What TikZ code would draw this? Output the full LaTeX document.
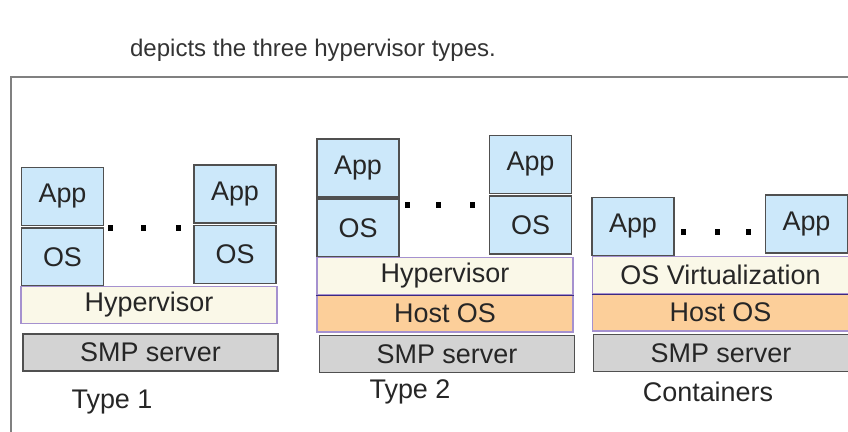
\documentclass[tikz,border=0pt]{standalone}
\usepackage{fontspec}
\setmainfont{Liberation Sans}
\usetikzlibrary{positioning}
\definecolor{appblue}{HTML}{CCE8FA}
\definecolor{hypfill}{HTML}{FAF8E8}
\definecolor{hypline}{HTML}{A591CF}
\definecolor{hostfill}{HTML}{FCCF9A}
\definecolor{smpfill}{HTML}{D3D3D3}
\definecolor{boxgray}{HTML}{505050}
\definecolor{seamline}{HTML}{3C2A80}
\tikzstyle{layer} = [rectangle, draw=boxgray, line width=1.2pt, inner sep=0pt, text=black!85, font=\fontsize{23}{27}\selectfont]
\tikzstyle{app} = [layer, fill=appblue, minimum width=2.46cm, minimum height=1.75cm]
\tikzstyle{hyp} = [layer, draw=hypline, fill=hypfill, minimum width=7.68cm, minimum height=1.12cm]
\tikzstyle{host} = [hyp, fill=hostfill]
\tikzstyle{smp} = [layer, fill=smpfill, minimum width=7.65cm, minimum height=1.11cm]
\tikzstyle{dot} = [rectangle, fill=black, minimum width=0.15cm, minimum height=0.17cm, inner sep=0pt]
\tikzstyle{caption} = [text=black!85, font=\fontsize{23}{27}\selectfont]
\tikzstyle{seam} = [seamline, line width=1.2pt]
\tikzstyle{frame} = [gray, line width=1.6pt]

\begin{document}
\begin{tikzpicture}[x=0.03cm,y=-0.03cm]
	\useasboundingbox (0,0) rectangle (848,432);
	\draw[frame] (11,440) -- (11,77) -- (860,77);
	\node[text=black!80, font=\fontsize{20.5}{24}\selectfont] (title) at (313,50) {depicts the three hypervisor types.};
	% Type 1
	\node[app] (app1a) at (62.5,196.5) {App};
	\node[app] (os1a) at (62.5,257) {OS};
	\node[app] (app1b) at (235,194) {App};
	\node[app] (os1b) at (235,254.5) {OS};
	\foreach \x in {110,143,178}
	\node[dot] (d1\x) at (\x,228) {};
	\node[hyp] (hyp1) at (149,305) {Hypervisor};
	\node[smp] (smp1) at (150.5,352.5) {SMP server};
	\node[caption] (type1) at (112,402) {Type 1};
	% Type 2
	\node[app] (app2a) at (358,168) {App};
	\node[app] (os2a) at (358,228) {OS};
	\node[app] (app2b) at (530.5,164.5) {App};
	\node[app] (os2b) at (530.5,225) {OS};
	\foreach \x in {407,438,472}
	\node[dot] (d2\x) at (\x,205) {};
	\node[hyp] (hyp2) at (445,276) {Hypervisor};
	\node[host] (host2) at (445,313.5) {Host OS};
	\draw[seam] (hyp2.south west) -- (hyp2.south east);
	\node[smp] (smp2) at (447,354) {SMP server};
	\node[caption] (type2) at (410,392) {Type 2};
	% Containers
	\node[app] (app3a) at (633,226.5) {App};
	\node[app] (app3b) at (806.5,224) {App};
	\foreach \x in {683,717,748}
	\node[dot] (d3\x) at (\x,232) {};
	\node[hyp] (osv3) at (720.5,275) {OS Virtualization};
	\node[host] (host3) at (720.5,312.5) {Host OS};
	\draw[seam] (osv3.south west) -- (osv3.south east);
	\node[smp] (smp3) at (721,353) {SMP server};
	\node[caption] (cont) at (708,392) {Containers};
\end{tikzpicture}
\end{document}
